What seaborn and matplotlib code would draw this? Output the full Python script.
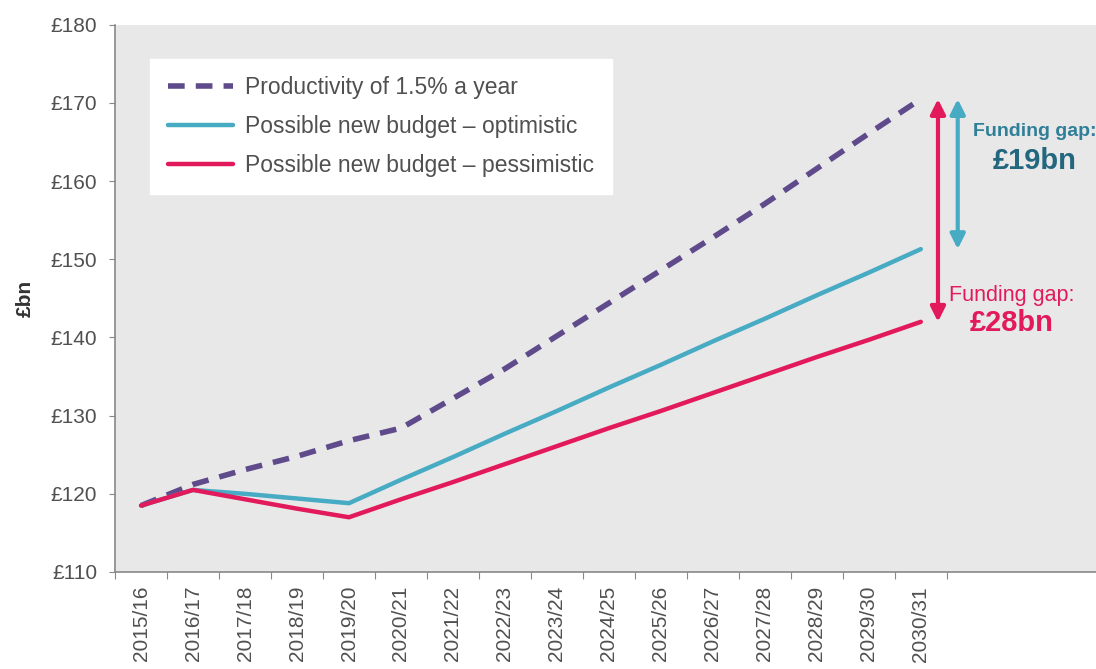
import matplotlib
matplotlib.use("Agg")
import matplotlib.pyplot as plt
import seaborn as sns
import numpy as np

years = ["2015/16", "2016/17", "2017/18", "2018/19", "2019/20", "2020/21",
         "2021/22", "2022/23", "2023/24", "2024/25", "2025/26", "2026/27",
         "2027/28", "2028/29", "2029/30", "2030/31"]
productivity = [118.5, 121.2, 123.1, 124.8, 126.8, 128.4, 132.2, 136.0,
                140.2, 144.4, 148.6, 152.8, 157.1, 161.6, 166.1, 170.5]
optimistic = [118.5, 120.5, 120.0, 119.4, 118.8, 121.8, 124.7, 127.7,
              130.6, 133.6, 136.5, 139.5, 142.4, 145.4, 148.3, 151.3]
pessimistic = [118.5, 120.5, 119.3, 118.1, 117.0, 119.3, 121.5, 123.8,
               126.1, 128.4, 130.6, 132.9, 135.2, 137.5, 139.7, 142.0]
gap_opt = "£19bn"
gap_pes = "£28bn"

PURPLE = "#5f4a8b"
TEAL = "#47abc3"
RED = "#e2195b"
BG = "#e8e8e8"
TXT = "#505050"

sns.set_style("ticks", {"axes.facecolor": BG})
plt.rcParams["font.family"] = ["Liberation Sans", "DejaVu Sans"]

fig = plt.figure(figsize=(10.96, 6.69), dpi=100)
ax = fig.add_axes([0.105, 0.145, 0.895, 0.818])

x = np.arange(len(years))
sns.lineplot(x=x, y=productivity, ax=ax, color=PURPLE, lw=4, linestyle=(0, (3.0, 2.0)),
             label="Productivity of 1.5% a year")
sns.lineplot(x=x, y=optimistic, ax=ax, color=TEAL, lw=3.2,
             label="Possible new budget \u2013 optimistic")
sns.lineplot(x=x, y=pessimistic, ax=ax, color=RED, lw=3.2,
             label="Possible new budget \u2013 pessimistic")

ax.set_ylim(110, 180)
ax.set_xlim(-0.5, 18.37)
ax.set_yticks(range(110, 181, 10))
ax.set_yticklabels([f"£{v}" for v in range(110, 181, 10)], fontsize=15, color=TXT)

# ticks sit on category boundaries, labels in between
ax.set_xticks(np.arange(-0.5, len(years), 1.0))
ax.set_xticklabels([])
ax.set_xticks(x, minor=True)
ax.set_xticklabels(years, minor=True, rotation=90, fontsize=15, color=TXT)
ax.tick_params(axis="x", which="minor", length=0, pad=10)
ax.tick_params(axis="x", which="major", length=5, color="#888888")
ax.tick_params(axis="y", length=4, pad=9, color="#888888")

for s in ["top", "right"]:
    ax.spines[s].set_visible(False)
for s in ["left", "bottom"]:
    ax.spines[s].set_color("#888888")
    ax.spines[s].set_linewidth(1.2)

ax.set_xlabel("")
ax.set_ylabel("£bn", fontsize=15, fontweight="bold", color="#333333", labelpad=11)

leg = ax.legend(loc="upper left", bbox_to_anchor=(0.036, 0.937), frameon=True,
                fancybox=False, facecolor="white", edgecolor="white", framealpha=1,
                fontsize=16.5, handlelength=2.85, handletextpad=0.55, borderpad=0.75,
                labelspacing=0.68, borderaxespad=0)
for t in leg.get_texts():
    t.set_color(TXT)

# funding gap arrows
top = productivity[-1]
ax.annotate("", xy=(15.33, pessimistic[-1]), xytext=(15.33, top),
            arrowprops=dict(arrowstyle="<|-|>", color=RED, lw=3,
                            mutation_scale=22, shrinkA=0, shrinkB=0))
ax.annotate("", xy=(15.71, optimistic[-1]), xytext=(15.71, top),
            arrowprops=dict(arrowstyle="<|-|>", color=TEAL, lw=3,
                            mutation_scale=22, shrinkA=0, shrinkB=0))

ax.text(17.19, 166.4, "Funding gap:", color="#2f7f98", fontsize=14, fontweight="bold",
        ha="center", va="center")
ax.text(17.19, 162.6, gap_opt, color="#22677e", fontsize=21, fontweight="bold",
        ha="center", va="center")
ax.text(16.75, 145.4, "Funding gap:", color=RED, fontsize=15.5,
        ha="center", va="center")
ax.text(16.75, 141.8, gap_pes, color=RED, fontsize=21, fontweight="bold",
        ha="center", va="center")

fig.savefig("out.png", dpi=100)
